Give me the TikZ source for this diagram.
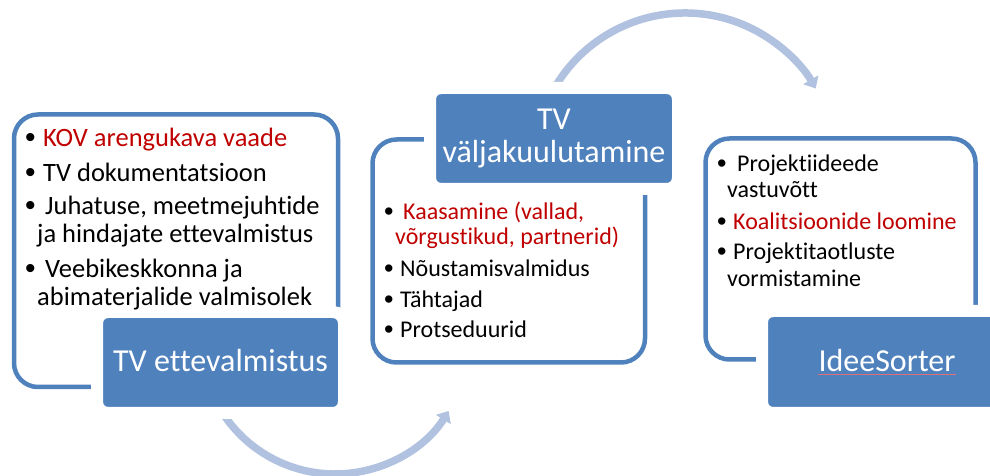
\documentclass[tikz,border=0pt]{standalone}
\usepackage{fontspec}
\setmainfont{Carlito}[Ligatures={NoCommon,NoContextual}]
\newfontfamily\bulletfont{Liberation Sans}
\usetikzlibrary{arrows.meta}
\definecolor{hblue}{RGB}{79,129,189}
\definecolor{arcblue}{RGB}{176,194,224}
\definecolor{kred}{RGB}{192,0,0}
\definecolor{squigred}{RGB}{222,110,120}
\begin{document}
\begin{tikzpicture}[x=1pt,y=1pt,
  panel/.style={draw=hblue, line width=4.5pt, rounded corners=24pt, fill=white, inner sep=0pt},
  hdr/.style={fill=hblue, draw=white, line width=12pt, rounded corners=11pt, inner sep=0pt},
  hdrtxt/.style={text=white, font=\fontsize{32}{33}\selectfont, inner sep=0pt, anchor=base},
  bigitem/.style={font=\fontsize{26.5}{30}\selectfont, inner sep=0pt, anchor=base west},
  smallitem/.style={font=\fontsize{24}{27}\selectfont, inner sep=0pt, anchor=base west},
  bigdot/.style={font=\bulletfont\fontsize{30}{30}\selectfont, inner sep=0pt, anchor=base west},
  smalldot/.style={font=\bulletfont\fontsize{27}{27}\selectfont, inner sep=0pt, anchor=base west},
  hot/.style={text=kred},
  arcarrow/.style={draw=arcblue, line width=7.5pt, -{Triangle[width=17pt,length=10pt]}},
  squig/.style={draw=squigred, line width=0.8pt}]
\useasboundingbox (0,0) rectangle (990,476);
\clip (0,0) rectangle (990,476);
% panels
\node[panel, minimum width=324pt, minimum height=272.5pt] (p1) at (176,225.25) {};
\node[panel, minimum width=272.5pt, minimum height=223pt] (p2) at (508.75,225) {};
\node[panel, minimum width=270pt, minimum height=221pt] (p3) at (840.5,227) {};
% arcs
\coordinate (a1s) at (554.2,387.5);
\draw[arcarrow] (a1s) arc[start angle=150, end angle=30, radius=151];
\coordinate (a2s) at (222.6,63);
\draw[arcarrow] (a2s) arc[start angle=213, end angle=328, radius=134];
% headers
\node[hdr, minimum width=247pt, minimum height=101pt] (h1) at (220.5,113.5) {};
\node[hdr, minimum width=248pt, minimum height=101pt] (h2) at (554,337.5) {};
\node[hdr, minimum width=250pt, minimum height=102pt] (h3) at (887,114) {};
\node[hdrtxt] (t1) at (220.5,104) {TV ettevalmistus};
\node[hdrtxt] (t2a) at (554,346) {TV};
\node[hdrtxt] (t2b) at (554,313) {väljakuulutamine};
\node[hdrtxt] (t3) at (887,104) {IdeeSorter};
\draw[squig] ([yshift=-2pt]t3.base west) -- ([yshift=-2pt]t3.base east);
% panel 1 items
\node[bigdot] (d1a) at (25,328) {•};
\node[bigdot] (d1b) at (25,293) {•};
\node[bigdot] (d1c) at (25,260) {•};
\node[bigdot] (d1d) at (25,197) {•};
\node[bigitem, hot] (l1a) at (43,329) {KOV arengukava vaade};
\node[bigitem] (l1b) at (43,294) {TV dokumentatsioon};
\node[bigitem] (l1c) at (45,261) {Juhatuse, meetmejuhtide};
\node[bigitem] (l1d) at (37,233) {ja hindajate ettevalmistus};
\node[bigitem] (l1e) at (45,198) {Veebikeskkonna ja};
\node[bigitem] (l1f) at (37,170) {abimaterjalide valmisolek};
% panel 2 items
\node[smalldot] (d2a) at (384,255) {•};
\node[smalldot] (d2b) at (384,198) {•};
\node[smalldot] (d2c) at (384,167) {•};
\node[smalldot] (d2d) at (384,137) {•};
\node[smallitem, hot] (l2a) at (403,256) {Kaasamine (vallad,};
\node[smallitem, hot] (l2b) at (395,231) {võrgustikud, partnerid)};
\node[smallitem] (l2c) at (400,199) {Nõustamisvalmidus};
\node[smallitem] (l2d) at (400,168) {Tähtajad};
\node[smallitem] (l2e) at (400,138) {Protseduurid};
% panel 3 items
\node[smalldot] (d3a) at (717,303) {•};
\node[smalldot] (d3b) at (717,245) {•};
\node[smalldot] (d3c) at (717,215) {•};
\node[smallitem] (l3a) at (737,304) {Projektiideede};
\node[smallitem] (l3b) at (727,278) {vastuvõtt};
\node[smallitem, hot] (l3c) at (733,246) {Koalitsioonide loomine};
\node[smallitem] (l3d) at (733,216) {Projektitaotluste};
\node[smallitem] (l3e) at (727,189) {vormistamine};
\end{tikzpicture}
\end{document}
